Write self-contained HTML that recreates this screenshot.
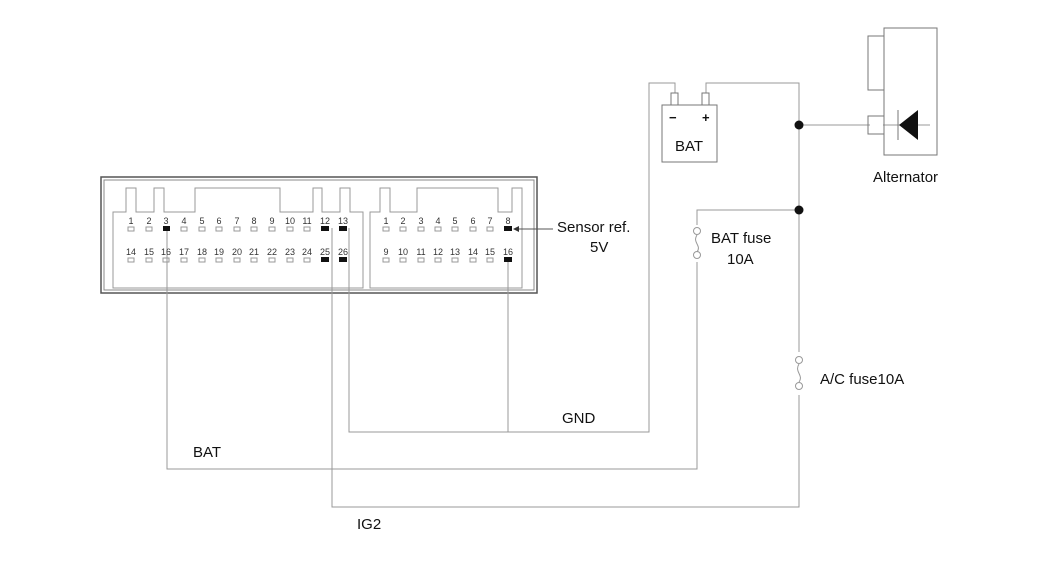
<!DOCTYPE html>
<html><head><meta charset="utf-8"><style>
html,body{margin:0;padding:0;background:#fff;}
svg{display:block;}
text{font-family:"Liberation Sans",Arial,sans-serif;fill:#111;}
.n{font-size:9px;text-anchor:middle;fill:#333;}
.l{font-size:15px;}
</style></head><body>
<svg width="1050" height="562" viewBox="0 0 1050 562" xmlns="http://www.w3.org/2000/svg">
<g fill="none" stroke="#999" stroke-width="1">
<!-- connector outer -->
<rect x="101" y="177" width="436" height="116" stroke="#555" stroke-width="1.5"/>
<rect x="104" y="180" width="430" height="110" stroke="#888"/>
<!-- left inner -->
<path d="M113,288 V212 H126 V188 H136 V212 H154 V188 H164 V212 H195 V188 H280 V212 H313 V188 H322 V212 H340 V188 H350 V212 H363 V288 Z"/>
<path d="M370,288 V212 H380 V188 H390 V212 H417 V188 H498 V212 H512 V188 H522 V288 Z"/>
<!-- wires -->
<polyline points="167,228 167,469 697,469 697,262"/>
<polyline points="697,225 697,210 799,210"/>
<polyline points="332,228 332,507 799,507 799,395"/>
<polyline points="799,352 799,83 706,83 706,93"/>
<polyline points="349,228 349,432 649,432 649,83 675,83 675,93"/>
<polyline points="508,260 508,432"/>
<line x1="799" y1="125" x2="870" y2="125"/>
<line x1="883" y1="125" x2="930" y2="125"/>
</g>
<!-- pins -->
<g>
<text class="n" x="131" y="224">1</text><text class="n" x="149" y="224">2</text><text class="n" x="166" y="224">3</text><text class="n" x="184" y="224">4</text><text class="n" x="202" y="224">5</text><text class="n" x="219" y="224">6</text><text class="n" x="237" y="224">7</text><text class="n" x="254" y="224">8</text><text class="n" x="272" y="224">9</text><text class="n" x="290" y="224">10</text><text class="n" x="307" y="224">11</text><text class="n" x="325" y="224">12</text><text class="n" x="343" y="224">13</text>
<text class="n" x="131" y="255">14</text><text class="n" x="149" y="255">15</text><text class="n" x="166" y="255">16</text><text class="n" x="184" y="255">17</text><text class="n" x="202" y="255">18</text><text class="n" x="219" y="255">19</text><text class="n" x="237" y="255">20</text><text class="n" x="254" y="255">21</text><text class="n" x="272" y="255">22</text><text class="n" x="290" y="255">23</text><text class="n" x="307" y="255">24</text><text class="n" x="325" y="255">25</text><text class="n" x="343" y="255">26</text>
<text class="n" x="386" y="224">1</text><text class="n" x="403" y="224">2</text><text class="n" x="421" y="224">3</text><text class="n" x="438" y="224">4</text><text class="n" x="455" y="224">5</text><text class="n" x="473" y="224">6</text><text class="n" x="490" y="224">7</text><text class="n" x="508" y="224">8</text>
<text class="n" x="386" y="255">9</text><text class="n" x="403" y="255">10</text><text class="n" x="421" y="255">11</text><text class="n" x="438" y="255">12</text><text class="n" x="455" y="255">13</text><text class="n" x="473" y="255">14</text><text class="n" x="490" y="255">15</text><text class="n" x="508" y="255">16</text>
</g>
<g fill="none" stroke="#999">
<rect x="128" y="227" width="6" height="4"/><rect x="146" y="227" width="6" height="4"/><rect x="181" y="227" width="6" height="4"/><rect x="199" y="227" width="6" height="4"/><rect x="216" y="227" width="6" height="4"/><rect x="234" y="227" width="6" height="4"/><rect x="251" y="227" width="6" height="4"/><rect x="269" y="227" width="6" height="4"/><rect x="287" y="227" width="6" height="4"/><rect x="304" y="227" width="6" height="4"/>
<rect x="128" y="258" width="6" height="4"/><rect x="146" y="258" width="6" height="4"/><rect x="163" y="258" width="6" height="4"/><rect x="181" y="258" width="6" height="4"/><rect x="199" y="258" width="6" height="4"/><rect x="216" y="258" width="6" height="4"/><rect x="234" y="258" width="6" height="4"/><rect x="251" y="258" width="6" height="4"/><rect x="269" y="258" width="6" height="4"/><rect x="287" y="258" width="6" height="4"/><rect x="304" y="258" width="6" height="4"/>
<rect x="383" y="227" width="6" height="4"/><rect x="400" y="227" width="6" height="4"/><rect x="418" y="227" width="6" height="4"/><rect x="435" y="227" width="6" height="4"/><rect x="452" y="227" width="6" height="4"/><rect x="470" y="227" width="6" height="4"/><rect x="487" y="227" width="6" height="4"/>
<rect x="383" y="258" width="6" height="4"/><rect x="400" y="258" width="6" height="4"/><rect x="418" y="258" width="6" height="4"/><rect x="435" y="258" width="6" height="4"/><rect x="452" y="258" width="6" height="4"/><rect x="470" y="258" width="6" height="4"/><rect x="487" y="258" width="6" height="4"/>
</g>
<g fill="#111">
<rect x="163" y="226" width="7" height="5"/><rect x="321" y="226" width="8" height="5"/><rect x="339" y="226" width="8" height="5"/>
<rect x="321" y="257" width="8" height="5"/><rect x="339" y="257" width="8" height="5"/>
<rect x="504" y="226" width="8" height="5"/><rect x="504" y="257" width="8" height="5"/>
</g>
<!-- sensor arrow -->
<line x1="553" y1="229" x2="516" y2="229" stroke="#555"/>
<path d="M513,229 l6,-3 v6 z" fill="#333"/>
<!-- fuses -->
<g fill="none" stroke="#999">
<circle cx="697" cy="231" r="3.5"/><circle cx="697" cy="255" r="3.5"/><path d="M697,235 C692,243 702,245 697,252"/>
<circle cx="799" cy="360" r="3.5"/><circle cx="799" cy="386" r="3.5"/><path d="M799,364 C794,372 804,375 799,382"/>
</g>
<!-- battery -->
<g fill="none" stroke="#777">
<rect x="662" y="105" width="55" height="57"/>
<rect x="671" y="93" width="7" height="12"/><rect x="702" y="93" width="7" height="12"/>
<!-- alternator -->
<rect x="884" y="28" width="53" height="127"/>
<rect x="868" y="36" width="16" height="54"/>
<rect x="868" y="116" width="16" height="18"/>
<line x1="898" y1="110" x2="898" y2="140"/>
</g>
<path d="M899,125 L918,110 V140 Z" fill="#111"/>
<circle cx="799" cy="125" r="4.5" fill="#111"/>
<circle cx="799" cy="210" r="4.5" fill="#111"/>
<text x="669" y="122" style="font-size:13px;font-weight:bold">−</text>
<text x="702" y="122" style="font-size:13px;font-weight:bold">+</text>
<text class="l" x="675" y="151">BAT</text>
<text class="l" x="873" y="182">Alternator</text>
<text class="l" x="557" y="232">Sensor ref.</text>
<text class="l" x="590" y="252">5V</text>
<text class="l" x="711" y="243">BAT fuse</text>
<text class="l" x="727" y="264">10A</text>
<text class="l" x="820" y="384">A/C fuse10A</text>
<text class="l" x="562" y="423">GND</text>
<text class="l" x="193" y="457">BAT</text>
<text class="l" x="357" y="529">IG2</text>
</svg>
</body></html>
